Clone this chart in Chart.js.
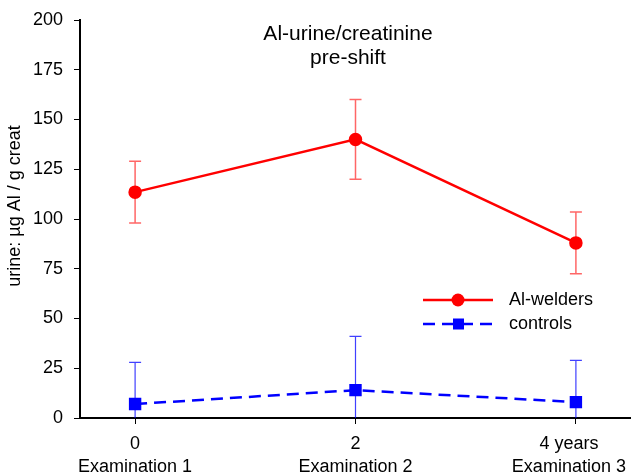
<!DOCTYPE html>
<html>
<head>
<meta charset="utf-8">
<script src="https://cdn.jsdelivr.net/npm/chart.js@4.4.1/dist/chart.umd.min.js"></script>
<style>
  html, body { margin: 0; padding: 0; background: #fff; }
  #wrap { width: 631px; height: 476px; }
</style>
</head>
<body>
<div id="wrap"><canvas id="mycanvas" width="631" height="476"></canvas></div>
<script>
var xValues = [0, 2, 4];
var tickLabels = [['0', 'Examination 1'], ['2', 'Examination 2'], ['4 years', 'Examination 3']];
var welders = [113.5, 140, 88];
var weldersErr = [15.5, 20, 15.5];
var controls = [7, 14, 8];
var controlsErr = [21, 27, 21];
var yTicks = [0, 25, 50, 75, 100, 125, 150, 175, 200];
var titleLines = ['Al-urine/creatinine', 'pre-shift'];
var yTitle = 'urine: µg Al / g creat';

var FONT = "'Liberation Sans', Arial, Helvetica, sans-serif";

function toPoints(vals) {
	var pts = [];
	for (var i in vals) {
		pts.push({x: xValues[i], y: vals[i]});
	}
	return pts;
}

// error bars, drawn under the lines
var errorBars = {
	id: 'errorBars',
	beforeDatasetsDraw: function(chart) {
		var ctx = chart.ctx;
		var xs = chart.scales.x, ys = chart.scales.y;
		chart.data.datasets.forEach(function(ds) {
			ctx.save();
			ctx.strokeStyle = ds.errColor;
			ctx.lineWidth = ds.errWidth;
			for (var i = 0; i < ds.data.length; i++) {
				var px = xs.getPixelForValue(ds.data[i].x);
				var hi = ds.data[i].y + ds.err[i];
				var lo = Math.max(ds.data[i].y - ds.err[i], 0);
				var pyHi = ys.getPixelForValue(hi);
				var pyLo = ys.getPixelForValue(lo);
				ctx.beginPath();
				ctx.moveTo(px, pyHi);
				ctx.lineTo(px, pyLo);
				ctx.moveTo(px - 6, pyHi);
				ctx.lineTo(px + 6, pyHi);
				if (ds.data[i].y - ds.err[i] > 0) {
					ctx.moveTo(px - 6, pyLo);
					ctx.lineTo(px + 6, pyLo);
				}
				ctx.stroke();
			}
			ctx.restore();
		});
	}
};

// keep the last x label inside the canvas
var fitLastLabel = {
	id: 'fitLastLabel',
	beforeDraw: function(chart) {
		var scale = chart.scales.x;
		var items = scale.getLabelItems(chart.chartArea);
		var last = items[items.length - 1];
		if (last && !last._shifted) {
			last.options.translation[0] -= 7;
			last._shifted = true;
		}
	}
};

// title, y-axis title and legend
var overlay = {
	id: 'overlay',
	afterDraw: function(chart) {
		var ctx = chart.ctx;
		var area = chart.chartArea;
		ctx.save();
		ctx.fillStyle = '#000';
		ctx.font = '21px ' + FONT;
		ctx.textAlign = 'center';
		ctx.textBaseline = 'middle';
		var cx = area.left + 268;
		ctx.fillText(titleLines[0], cx, area.top + 14);
		ctx.fillText(titleLines[1], cx, area.top + 38);

		ctx.save();
		ctx.font = '18px ' + FONT;
		ctx.translate(15, area.top + 186);
		ctx.rotate(-Math.PI / 2);
		ctx.fillText(yTitle, 0, 0);
		ctx.restore();

		var lx = area.left + 343, ly = area.top + 280;
		chart.data.datasets.forEach(function(ds, k) {
			var y = ly + k * 24;
			ctx.strokeStyle = ds.borderColor;
			ctx.lineWidth = ds.borderWidth;
			ctx.setLineDash(ds.borderDash || []);
			ctx.beginPath();
			ctx.moveTo(lx, y);
			ctx.lineTo(lx + 70, y);
			ctx.stroke();
			ctx.setLineDash([]);
			ctx.fillStyle = ds.pointBackgroundColor;
			if (ds.pointStyle === 'rect') {
				ctx.fillRect(lx + 30, y - 5.5, 11, 11);
			} else {
				ctx.beginPath();
				ctx.arc(lx + 35, y, 6.5, 0, Math.PI * 2);
				ctx.fill();
			}
			ctx.fillStyle = '#000';
			ctx.font = '18px ' + FONT;
			ctx.textAlign = 'left';
			ctx.fillText(ds.label, lx + 86, y);
		});
		ctx.restore();
	}
};

var chartdata = {
	datasets: [
		{
			label: 'Al-welders',
			data: toPoints(welders),
			err: weldersErr,
			errColor: 'rgba(255, 0, 0, 0.6)',
			errWidth: 1.5,
			borderColor: '#ff0000',
			backgroundColor: '#ff0000',
			pointBackgroundColor: '#ff0000',
			pointBorderColor: '#ff0000',
			pointStyle: 'circle',
			pointRadius: 5.5,
			borderWidth: 2.5
		},
		{
			label: 'controls',
			data: toPoints(controls),
			err: controlsErr,
			errColor: 'rgba(0, 0, 255, 0.75)',
			errWidth: 1.2,
			borderColor: '#0000ff',
			backgroundColor: '#0000ff',
			pointBackgroundColor: '#0000ff',
			pointBorderColor: '#0000ff',
			pointStyle: 'rect',
			pointRadius: 7,
			borderWidth: 2.5,
			borderDash: [12, 7]
		}
	]
};

var ctx = document.getElementById('mycanvas');

var lineGraph = new Chart(ctx, {
	type: 'line',
	data: chartdata,
	plugins: [errorBars, fitLastLabel, overlay],
	options: {
		responsive: false,
		animation: false,
		events: [],
		layout: { autoPadding: false, padding: { top: 20, right: 0, left: 0, bottom: 0 } },
		plugins: {
			legend: { display: false },
			title: { display: false },
			tooltip: { enabled: false }
		},
		scales: {
			x: {
				type: 'linear',
				min: -0.5,
				max: 4.5,
				afterBuildTicks: function(scale) {
					scale.ticks = xValues.map(function(v) { return {value: v}; });
				},
				afterFit: function(scale) {
					scale.height = 58;
					scale.paddingLeft = 0;
					scale.paddingRight = 0;
				},
				grid: { drawOnChartArea: false, drawTicks: true, tickLength: 6, color: '#000', lineWidth: 1 },
				border: { display: true, color: '#000', width: 2 },
				ticks: {
					color: '#000',
					padding: 8,
					maxRotation: 0,
					font: { family: FONT, size: 18, lineHeight: 1.3 },
					callback: function(value) {
						var i = xValues.indexOf(value);
						return i >= 0 ? tickLabels[i] : '';
					}
				}
			},
			y: {
				min: 0,
				max: 200,
				afterBuildTicks: function(scale) {
					scale.ticks = yTicks.map(function(v) { return {value: v}; });
				},
				afterFit: function(scale) {
					scale.width = 80;
					scale.paddingTop = 0;
					scale.paddingBottom = 0;
				},
				grid: { drawOnChartArea: false, drawTicks: true, tickLength: 6, color: '#000', lineWidth: 1 },
				border: { display: true, color: '#000', width: 2 },
				ticks: {
					color: '#000',
					padding: 11,
					font: { family: FONT, size: 18 }
				}
			}
		}
	}
});
</script>
</body>
</html>
